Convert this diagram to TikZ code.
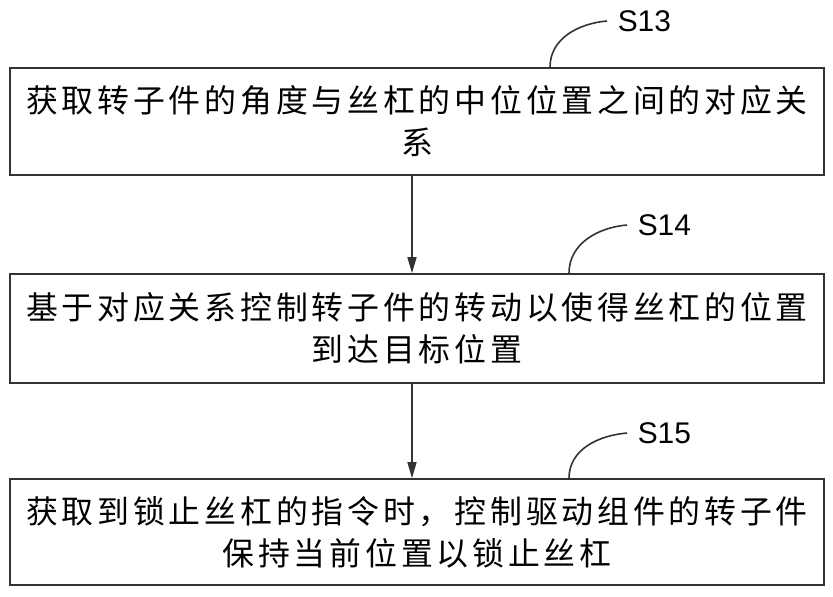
\documentclass[tikz,border=0pt]{standalone}
\usepackage{fontspec}
\setmainfont{Liberation Sans}
\newfontfamily\cjk{Noto Sans CJK SC}[LetterSpace=12]
\usetikzlibrary{arrows.meta}

\begin{document}
\begin{tikzpicture}[x=1bp,y=-1bp,>={Stealth[length=16bp,width=9bp,inset=0bp]},line width=1.6bp,draw=black!80,
every node/.style={inner sep=0pt},
stepbox/.style={draw,rectangle,minimum width=814bp,text width=800bp,align=center,font=\cjk\fontsize{32}{42}\selectfont},
steplabel/.style={anchor=west,inner xsep=10bp,font=\fontsize{30}{30}\selectfont}]
\useasboundingbox (0,0) rectangle (833,597);
\node[stepbox,minimum height=107bp] (b13) at (417,121.5) {获取转子件的角度与丝杠的中位位置之间的对应关\\系};
\node[stepbox,minimum height=109bp] (b14) at (417,328.5) {基于对应关系控制转子件的转动以使得丝杠的位置\\到达目标位置};
\node[stepbox,minimum height=106bp] (b15) at (417,532) {获取到锁止丝杠的指令时，控制驱动组件的转子件\\保持当前位置以锁止丝杠};
\node[steplabel] (s13) at (607,21) {S13};
\node[steplabel] (s14) at (627,225) {S14};
\node[steplabel] (s15) at (627,433) {S15};
\draw[->] ([xshift=-5bp]b13.south) -- ([xshift=-5bp]b14.north);
\draw[->] ([xshift=-5bp]b14.south) -- ([xshift=-5bp]b15.north);
\draw ([xshift=133bp]b13.north) to[out=90,in=185] (s13.west);
\draw ([xshift=152bp]b14.north) to[out=90,in=185] (s14.west);
\draw ([xshift=152bp]b15.north) to[out=90,in=185] (s15.west);
\end{tikzpicture}
\end{document}
